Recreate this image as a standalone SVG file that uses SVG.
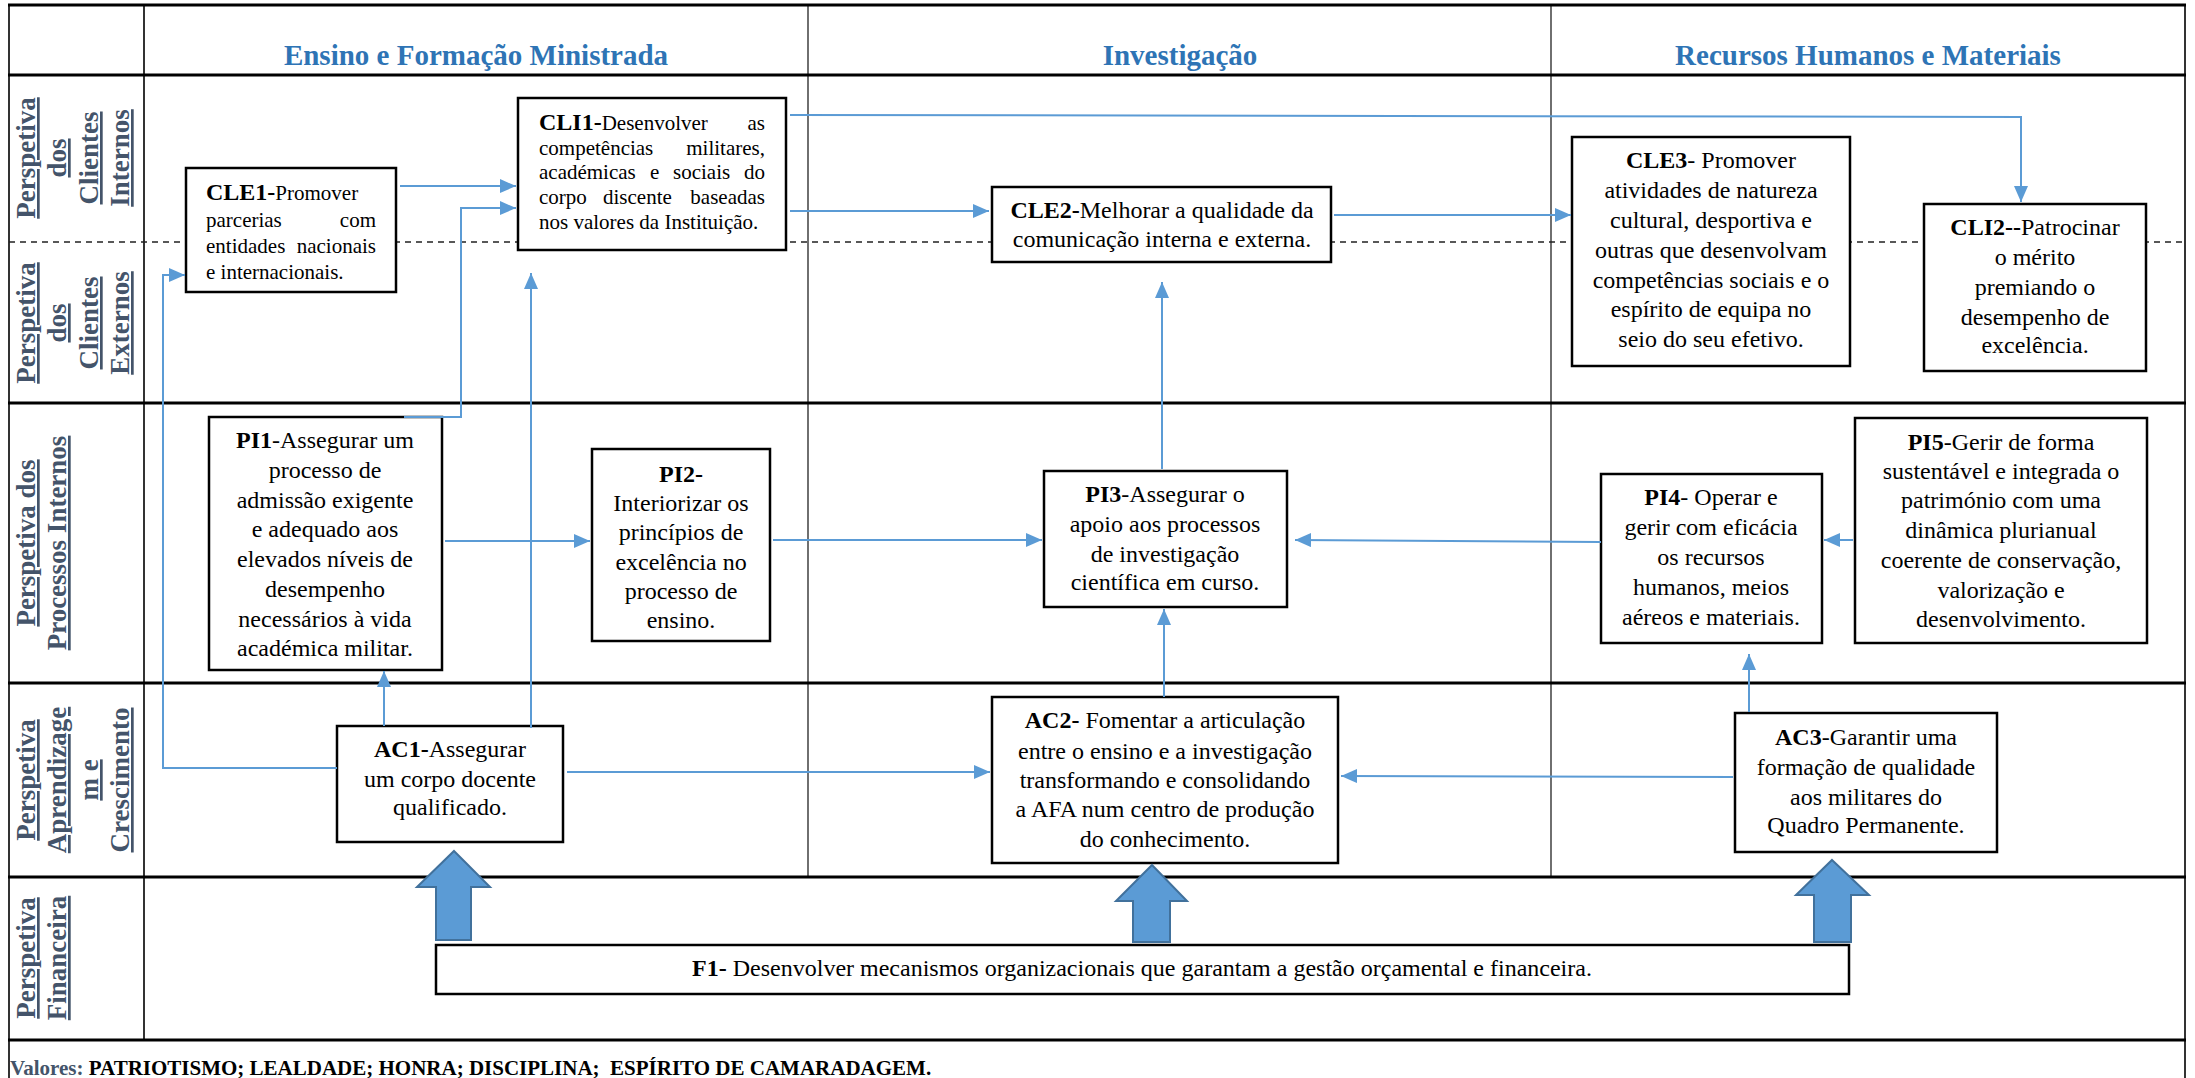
<svg xmlns="http://www.w3.org/2000/svg" width="2195" height="1078" viewBox="0 0 2195 1078">
  <style>
    .thick { stroke: #000; stroke-width: 3; }
    .thin { stroke: #222; stroke-width: 1.3; }
    .side { stroke: #333; stroke-width: 2; }
    .dash { stroke: #222; stroke-width: 1.6; stroke-dasharray: 6 5; }
    .box { fill: #fff; stroke: #000; stroke-width: 2.5; }
    text { font-family: "Liberation Serif", Tinos, "Times New Roman", Times, "DejaVu Serif", serif; }
    .t { font-size: 24px; fill: #000; }
    .s21 { font-size: 21px; }
    .b { font-weight: bold; font-size: 24px; }
    .c { text-anchor: middle; }
    .e { text-anchor: end; }
    .hdr { font-weight: bold; font-size: 29px; fill: #2e74b5; text-anchor: middle; }
    .lbl { font-weight: bold; font-size: 27px; fill: #44546a; text-anchor: middle; text-decoration: underline; }
    .val { font-size: 21px; font-weight: bold; fill: #000; }
    .conn { fill: none; stroke: #5b9bd5; stroke-width: 2; }
    .big { fill: #5b9bd5; stroke: #41719c; stroke-width: 2; }
  </style>
  <defs>
    <marker id="arrow" markerUnits="userSpaceOnUse" markerWidth="16" markerHeight="14" refX="16" refY="7" orient="auto">
      <path d="M0,0 L16,7 L0,14 z" fill="#5b9bd5"/>
    </marker>
  </defs>

  <rect x="0" y="0" width="2195" height="1078" fill="#fff"/>

  <!-- table frame -->
  <g id="table">
    <line class="thin" x1="808" y1="5" x2="808" y2="877"/>
    <line class="thin" x1="1551" y1="5" x2="1551" y2="877"/>
    <line class="side" x1="144" y1="5" x2="144" y2="1040"/>
    <line class="side" x1="9" y1="5" x2="9" y2="1078"/>
    <line class="side" x1="2185" y1="5" x2="2185" y2="1078"/>
    <line class="dash" x1="9" y1="242" x2="2185" y2="242"/>
    <line class="thick" x1="8" y1="5" x2="2186" y2="5"/>
    <line class="thick" x1="8" y1="75" x2="2186" y2="75"/>
    <line class="thick" x1="8" y1="403" x2="2186" y2="403"/>
    <line class="thick" x1="8" y1="683" x2="2186" y2="683"/>
    <line class="thick" x1="8" y1="877" x2="2186" y2="877"/>
    <line class="thick" x1="8" y1="1040" x2="2186" y2="1040"/>

    <!-- column headings -->
    <text class="hdr" x="476" y="65">Ensino e Formação Ministrada</text>
    <text class="hdr" x="1180" y="65">Investigação</text>
    <text class="hdr" x="1868" y="65">Recursos Humanos e Materiais</text>

    <!-- row headings, read bottom to top -->
    <text class="lbl" transform="translate(35,158) rotate(-90)">Perspetiva</text>
    <text class="lbl" transform="translate(66,158) rotate(-90)">dos</text>
    <text class="lbl" transform="translate(98,158) rotate(-90)">Clientes</text>
    <text class="lbl" transform="translate(129,158) rotate(-90)">Internos</text>

    <text class="lbl" transform="translate(35,323) rotate(-90)">Perspetiva</text>
    <text class="lbl" transform="translate(66,323) rotate(-90)">dos</text>
    <text class="lbl" transform="translate(98,323) rotate(-90)">Clientes</text>
    <text class="lbl" transform="translate(129,323) rotate(-90)">Externos</text>

    <text class="lbl" transform="translate(35,543) rotate(-90)">Perspetiva dos</text>
    <text class="lbl" transform="translate(66,543) rotate(-90)">Processos Internos</text>

    <text class="lbl" transform="translate(35,780) rotate(-90)">Perspetiva</text>
    <text class="lbl" transform="translate(66,780) rotate(-90)">Aprendizage</text>
    <text class="lbl" transform="translate(98,780) rotate(-90)">m e</text>
    <text class="lbl" transform="translate(129,780) rotate(-90)">Crescimento</text>

    <text class="lbl" transform="translate(35,958) rotate(-90)">Perspetiva</text>
    <text class="lbl" transform="translate(66,958) rotate(-90)">Financeira</text>

    <!-- values footer -->
    <text class="val" x="10" y="1075"><tspan fill="#44546a">Valores: </tspan>PATRIOTISMO; LEALDADE; HONRA; DISCIPLINA;&#160; ESPÍRITO DE CAMARADAGEM.</text>
  </g>

  <!-- objectives -->
  <g id="CLE1">
    <rect class="box" x="186" y="168" width="210" height="124"/>
    <text class="t s21" x="206" y="200"><tspan class="b">CLE1-</tspan>Promover</text>
    <text class="t s21" x="206" y="227">parcerias</text>
    <text class="t s21 e" x="376" y="227">com</text>
    <text class="t s21" x="206" y="253">entidades</text>
    <text class="t s21 e" x="376" y="253">nacionais</text>
    <text class="t s21" x="206" y="279">e internacionais.</text>
  </g>

  <g id="CLI1">
    <rect class="box" x="518" y="98" width="268" height="152"/>
    <text class="t s21" x="539" y="130"><tspan class="b">CLI1-</tspan>Desenvolver</text>
    <text class="t s21 e" x="765" y="130">as</text>
    <text class="t s21" x="539" y="155">competências</text>
    <text class="t s21 e" x="765" y="155">militares,</text>
    <text class="t s21" y="179"><tspan x="539">académicas</tspan><tspan x="650">e</tspan><tspan x="673">sociais</tspan></text>
    <text class="t s21 e" x="765" y="179">do</text>
    <text class="t s21" y="204"><tspan x="539">corpo</tspan><tspan x="603">discente</tspan></text>
    <text class="t s21 e" x="765" y="204">baseadas</text>
    <text class="t s21" x="539" y="229">nos valores da Instituição.</text>
  </g>

  <g id="CLE2">
    <rect class="box" x="992" y="187" width="339" height="75"/>
    <text class="t c" x="1162" y="218"><tspan class="b">CLE2-</tspan>Melhorar a qualidade da</text>
    <text class="t c" x="1162" y="247">comunicação interna e externa.</text>
  </g>

  <g id="CLE3">
    <rect class="box" x="1572" y="137" width="278" height="229"/>
    <text class="t c" x="1711" y="168"><tspan class="b">CLE3</tspan>- Promover</text>
    <text class="t c" x="1711" y="198">atividades de natureza</text>
    <text class="t c" x="1711" y="228">cultural, desportiva e</text>
    <text class="t c" x="1711" y="258">outras que desenvolvam</text>
    <text class="t c" x="1711" y="288">competências sociais e o</text>
    <text class="t c" x="1711" y="317">espírito de equipa no</text>
    <text class="t c" x="1711" y="347">seio do seu efetivo.</text>
  </g>

  <g id="CLI2">
    <rect class="box" x="1924" y="204" width="222" height="167"/>
    <text class="t c" x="2035" y="235"><tspan class="b">CLI2--</tspan>Patrocinar</text>
    <text class="t c" x="2035" y="265">o mérito</text>
    <text class="t c" x="2035" y="295">premiando o</text>
    <text class="t c" x="2035" y="325">desempenho de</text>
    <text class="t c" x="2035" y="353">excelência.</text>
  </g>

  <g id="PI1">
    <rect class="box" x="209" y="417" width="233" height="253"/>
    <text class="t c" x="325" y="448"><tspan class="b">PI1</tspan>-Assegurar um</text>
    <text class="t c" x="325" y="478">processo de</text>
    <text class="t c" x="325" y="508">admissão exigente</text>
    <text class="t c" x="325" y="537">e adequado aos</text>
    <text class="t c" x="325" y="567">elevados níveis de</text>
    <text class="t c" x="325" y="597">desempenho</text>
    <text class="t c" x="325" y="627">necessários à vida</text>
    <text class="t c" x="325" y="656">académica militar.</text>
  </g>

  <g id="PI2">
    <rect class="box" x="592" y="449" width="178" height="192"/>
    <text class="t c b" x="681" y="482">PI2-</text>
    <text class="t c" x="681" y="511">Interiorizar os</text>
    <text class="t c" x="681" y="540">princípios de</text>
    <text class="t c" x="681" y="570">excelência no</text>
    <text class="t c" x="681" y="599">processo de</text>
    <text class="t c" x="681" y="628">ensino.</text>
  </g>

  <g id="PI3">
    <rect class="box" x="1044" y="471" width="243" height="136"/>
    <text class="t c" x="1165" y="502"><tspan class="b">PI3</tspan>-Assegurar o</text>
    <text class="t c" x="1165" y="532">apoio aos processos</text>
    <text class="t c" x="1165" y="562">de investigação</text>
    <text class="t c" x="1165" y="590">científica em curso.</text>
  </g>

  <g id="PI4">
    <rect class="box" x="1601" y="474" width="221" height="169"/>
    <text class="t c" x="1711" y="505"><tspan class="b">PI4</tspan>- Operar e</text>
    <text class="t c" x="1711" y="535">gerir com eficácia</text>
    <text class="t c" x="1711" y="565">os recursos</text>
    <text class="t c" x="1711" y="595">humanos, meios</text>
    <text class="t c" x="1711" y="625">aéreos e materiais.</text>
  </g>

  <g id="PI5">
    <rect class="box" x="1855" y="418" width="292" height="225"/>
    <text class="t c" x="2001" y="450"><tspan class="b">PI5</tspan>-Gerir de forma</text>
    <text class="t c" x="2001" y="479">sustentável e integrada o</text>
    <text class="t c" x="2001" y="508">património com uma</text>
    <text class="t c" x="2001" y="538">dinâmica plurianual</text>
    <text class="t c" x="2001" y="568">coerente de conservação,</text>
    <text class="t c" x="2001" y="598">valorização e</text>
    <text class="t c" x="2001" y="627">desenvolvimento.</text>
  </g>

  <g id="AC1">
    <rect class="box" x="337" y="726" width="226" height="116"/>
    <text class="t c" x="450" y="757"><tspan class="b">AC1-</tspan>Assegurar</text>
    <text class="t c" x="450" y="787">um corpo docente</text>
    <text class="t c" x="450" y="815">qualificado.</text>
  </g>

  <g id="AC2">
    <rect class="box" x="992" y="697" width="346" height="166"/>
    <text class="t c" x="1165" y="728"><tspan class="b">AC2-</tspan> Fomentar a articulação</text>
    <text class="t c" x="1165" y="759">entre o ensino e a investigação</text>
    <text class="t c" x="1165" y="788">transformando e consolidando</text>
    <text class="t c" x="1165" y="817">a AFA num centro de produção</text>
    <text class="t c" x="1165" y="847">do conhecimento.</text>
  </g>

  <g id="AC3">
    <rect class="box" x="1735" y="713" width="262" height="139"/>
    <text class="t c" x="1866" y="745"><tspan class="b">AC3</tspan>-Garantir uma</text>
    <text class="t c" x="1866" y="775">formação de qualidade</text>
    <text class="t c" x="1866" y="805">aos militares do</text>
    <text class="t c" x="1866" y="833">Quadro Permanente.</text>
  </g>

  <g id="F1">
    <rect class="box" x="436" y="945" width="1413" height="49"/>
    <text class="t c" x="1142" y="976"><tspan class="b">F1-</tspan> Desenvolver mecanismos organizacionais que garantam a gestão orçamental e financeira.</text>
  </g>

  <!-- links between objectives -->
  <g id="connectors">
    <path class="conn" marker-end="url(#arrow)" d="M400 186 H516"/>
    <path class="conn" marker-end="url(#arrow)" d="M404 417 H461 V208 H516"/>
    <path class="conn" marker-end="url(#arrow)" d="M337 768 H163 V275 H185"/>
    <path class="conn" marker-end="url(#arrow)" d="M531 728 V273"/>
    <path class="conn" marker-end="url(#arrow)" d="M384 726 V671"/>
    <path class="conn" marker-end="url(#arrow)" d="M567 772 H990"/>
    <path class="conn" marker-end="url(#arrow)" d="M790 211 H989"/>
    <path class="conn" marker-end="url(#arrow)" d="M790 115 L2021 117 V202"/>
    <path class="conn" marker-end="url(#arrow)" d="M1334 215 H1571"/>
    <path class="conn" marker-end="url(#arrow)" d="M445 541 H590"/>
    <path class="conn" marker-end="url(#arrow)" d="M773 540 H1042"/>
    <path class="conn" marker-end="url(#arrow)" d="M1162 469 V282"/>
    <path class="conn" marker-end="url(#arrow)" d="M1601 542 L1295 540"/>
    <path class="conn" marker-end="url(#arrow)" d="M1853 540 H1824"/>
    <path class="conn" marker-end="url(#arrow)" d="M1164 697 V609"/>
    <path class="conn" marker-end="url(#arrow)" d="M1749 712 V654"/>
    <path class="conn" marker-end="url(#arrow)" d="M1733 777 L1341 776"/>

    <!-- block arrows from the financial objective -->
    <polygon class="big" points="454,851 490,887 471,887 471,940 436,940 436,887 417,887"/>
    <polygon class="big" points="1152,865 1187,901 1170,901 1170,942 1133,942 1133,901 1116,901"/>
    <polygon class="big" points="1832,860 1869,895 1851,895 1851,942 1814,942 1814,895 1796,895"/>
  </g>
</svg>
